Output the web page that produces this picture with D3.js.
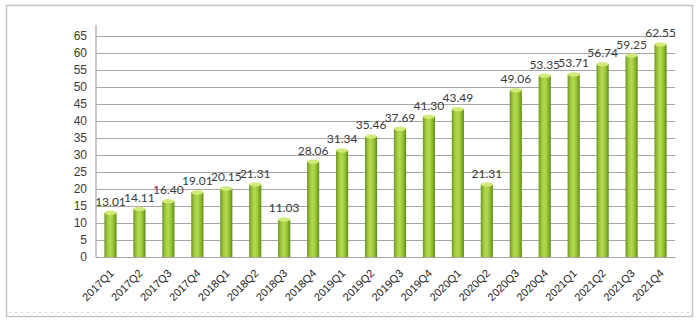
<!DOCTYPE html>
<html>
<head>
<meta charset="utf-8">
<script src="https://cdn.jsdelivr.net/npm/d3@7"></script>
<style>
  html, body { margin: 0; padding: 0; background: #fff; }
  svg { display: block; font-family: Lato, "Open Sans", "Liberation Sans", sans-serif; }
</style>
</head>
<body>
<svg id="chart" width="700" height="324"></svg>
<script>
// Quarterly values
const quarters = ["2017Q1","2017Q2","2017Q3","2017Q4","2018Q1","2018Q2","2018Q3","2018Q4",
                  "2019Q1","2019Q2","2019Q3","2019Q4","2020Q1","2020Q2","2020Q3","2020Q4",
                  "2021Q1","2021Q2","2021Q3","2021Q4"];
const values = [13.01, 14.11, 16.40, 19.01, 20.15, 21.31, 11.03, 28.06,
                31.34, 35.46, 37.69, 41.30, 43.49, 21.31, 49.06, 53.35,
                53.71, 56.74, 59.25, 62.55];
const yTicks = [0, 5, 10, 15, 20, 25, 30, 35, 40, 45, 50, 55, 60, 65];

const svg = d3.select("#chart");
const plot = { left: 96, right: 675, top: 36, bottom: 257 };

// Outer frame
svg.append("rect").attr("x", 6.5).attr("y", 5.5).attr("width", 686).attr("height", 311)
  .attr("fill", "none").attr("stroke", "#c4c4c4").attr("stroke-width", 1.5);
svg.append("line").attr("x1", 9).attr("x2", 690).attr("y1", 312.5).attr("y2", 312.5)
  .attr("stroke", "#d0d0d0").attr("stroke-dasharray", "2,4");

const x = d3.scaleBand().domain(quarters).range([plot.left, plot.right])
  .paddingInner(0.58).paddingOuter(0.29);
const y = d3.scaleLinear().domain([0, 65]).range([plot.bottom, plot.top]);

// Bar gradient (cylindrical shading)
const defs = svg.append("defs");
const grad = defs.append("linearGradient").attr("id", "barGrad")
  .attr("x1", "0%").attr("x2", "100%").attr("y1", "0%").attr("y2", "0%");
[["0%", "#6f9624"], ["30%", "#a8d044"], ["50%", "#b4d94f"], ["75%", "#94c032"], ["100%", "#5d8a18"]]
  .forEach(([o, c]) => grad.append("stop").attr("offset", o).attr("stop-color", c));

// Gridlines and value axis
const yAxis = d3.axisLeft(y).tickValues(yTicks).tickSize(-(plot.right - plot.left)).tickPadding(9);
const gy = svg.append("g").attr("transform", `translate(${plot.left},0)`).call(yAxis);
gy.select(".domain").remove();
gy.selectAll(".tick line").attr("stroke", "#a6a6a6").attr("stroke-width", 1.2);
gy.selectAll(".tick text").attr("fill", "#3a3a3a").style("font-size", "12px");
svg.append("line").attr("x1", plot.left).attr("x2", plot.left)
  .attr("y1", y(68.2)).attr("y2", plot.bottom).attr("stroke", "#a6a6a6").attr("stroke-width", 1.2);

// Bars
const bars = svg.append("g").selectAll("g").data(quarters).join("g");
bars.append("rect")
  .attr("x", d => x(d)).attr("width", x.bandwidth())
  .attr("y", (d, i) => y(values[i])).attr("height", (d, i) => plot.bottom - y(values[i]))
  .attr("fill", "url(#barGrad)");
bars.append("ellipse")
  .attr("cx", d => x(d) + x.bandwidth() / 2).attr("cy", (d, i) => y(values[i]))
  .attr("rx", x.bandwidth() / 2).attr("ry", 2.2)
  .attr("fill", "#d2ea78");

// Value labels
svg.append("g").selectAll("text").data(quarters).join("text")
  .attr("x", d => x(d) + x.bandwidth() / 2)
  .attr("y", (d, i) => y(values[i]) - 7)
  .attr("text-anchor", "middle")
  .attr("fill", "#3a3a3a").style("font-size", "12px")
  .text((d, i) => values[i].toFixed(2));

// Category axis
const xAxis = d3.axisBottom(x).tickSize(0).tickPadding(0);
const gx = svg.append("g").attr("transform", `translate(0,${plot.bottom})`).call(xAxis);
gx.select(".domain").attr("stroke", "#a6a6a6").attr("stroke-width", 1.2);
gx.selectAll(".tick text")
  .attr("fill", "#222").style("font-size", "11px")
  .attr("text-anchor", "end")
  .attr("transform", "translate(4,17) rotate(-45)")
  .attr("dy", "0");
</script>
</body>
</html>
